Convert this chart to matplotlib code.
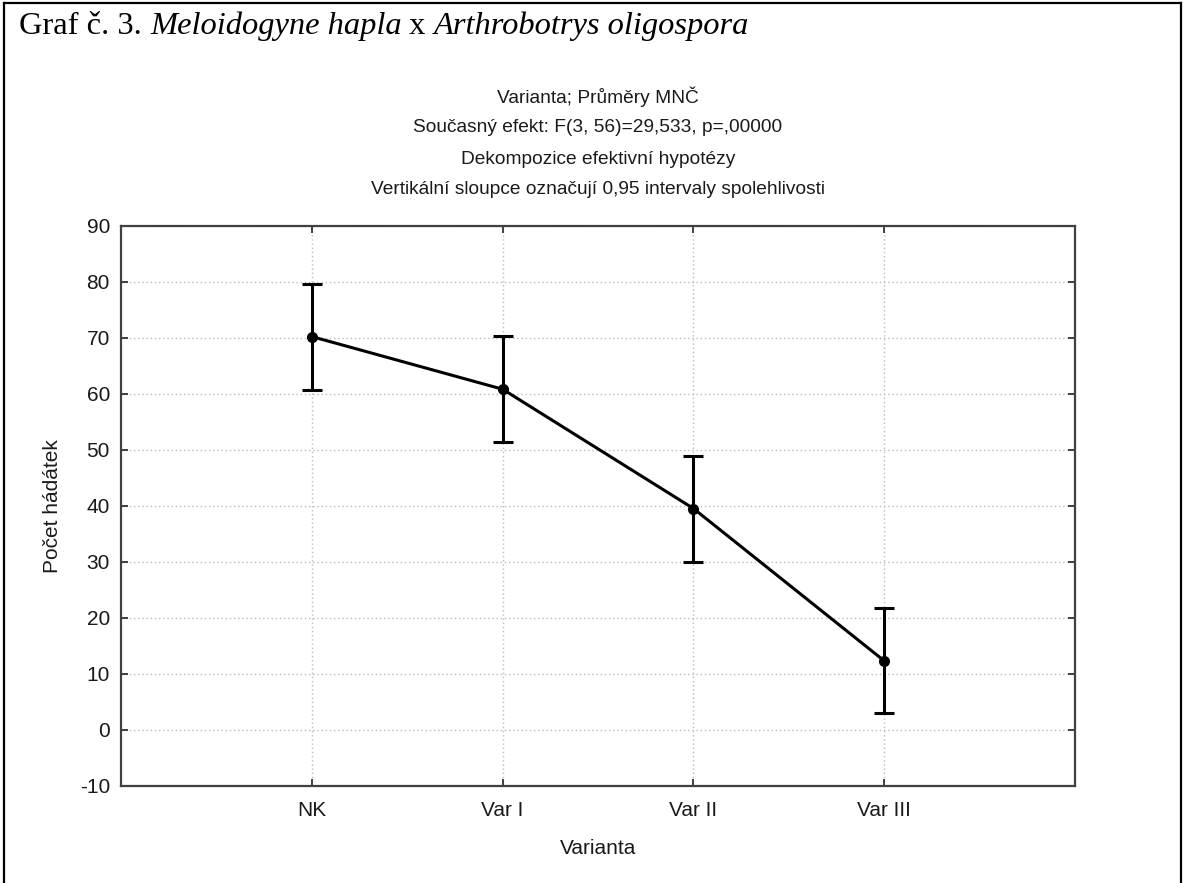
import matplotlib.pyplot as plt
import numpy as np
from matplotlib.lines import Line2D

plt.rcParams['font.family'] = ['Liberation Sans', 'DejaVu Sans']
plt.rcParams['axes.unicode_minus'] = False

# data
categories = ['NK', 'Var I', 'Var II', 'Var III']
means = [70.2, 60.8, 39.5, 12.3]
upper = [79.6, 70.3, 48.9, 21.8]
lower = [60.7, 51.4, 30.0, 2.9]
yticks = [-10, 0, 10, 20, 30, 40, 50, 60, 70, 80, 90]

header = ['Varianta; Průměry MNČ',
          'Současný efekt: F(3, 56)=29,533, p=,00000',
          'Dekompozice efektivní hypotézy',
          'Vertikální sloupce označují 0,95 intervaly spolehlivosti']

W, H = 1183, 883
fig = plt.figure(figsize=(W / 100, H / 100), dpi=100)
fig.patch.set_facecolor('white')

# frame around the whole figure (bottom edge falls outside the image)
for xs, ys in [([4 / W, 4 / W], [0, 1 - 3 / H]),
               ([1 - 2 / W, 1 - 2 / W], [0, 1 - 3 / H]),
               ([4 / W, 1 - 2 / W], [1 - 3 / H, 1 - 3 / H])]:
    fig.add_artist(Line2D(xs, ys, color='black', lw=1.6, transform=fig.transFigure))

# caption: mixed upright / italic parts placed one after another
cap_parts = [('Graf č. 3. ', 'normal'), ('Meloidogyne hapla', 'italic'),
             (' x ', 'normal'), ('Arthrobotrys oligospora', 'italic')]
renderer = fig.canvas.get_renderer()
xpos = 19 / W
for txt, style in cap_parts:
    t = fig.text(xpos, 1 - 26 / H, txt, family='Liberation Serif', style=style,
                 fontsize=23.4, va='center', ha='left')
    bb = t.get_window_extent(renderer=renderer)
    xpos += bb.width / W

# header lines above the plot
for i, line in enumerate(header):
    fig.text(598 / W, 1 - (97 + 31 * i) / H, line, fontsize=13.8, ha='center',
             va='center', color='#1a1a1a')

ax = fig.add_axes([121 / W, 1 - 785.7 / H, (1075 - 121) / W, (785.7 - 225.7) / H])
x = np.arange(1, len(categories) + 1)
m = np.array(means)
yerr = [m - np.array(lower), np.array(upper) - m]
ax.errorbar(x, m, yerr=yerr, color='black', lw=2.2, elinewidth=2.2, capsize=7.5,
            capthick=2.2, marker='o', markersize=7, zorder=3)

ax.set_xlim(0, 5)
ax.set_ylim(-10, 90)
ax.set_xticks(x)
ax.set_xticklabels(categories)
ax.set_yticks(yticks)
ax.tick_params(direction='in', top=True, right=True, length=5, width=1.3,
               labelsize=15, colors='#333333', labelcolor='#1a1a1a')
ax.tick_params(axis='x', pad=11)
ax.tick_params(axis='y', pad=8)
ax.grid(True, linestyle=(0, (1, 2)), color='#bbbbbb', lw=1)
for s in ax.spines.values():
    s.set_color('#404040')
    s.set_linewidth(1.6)

ax.set_xlabel('Varianta', fontsize=15, labelpad=14, color='#1a1a1a')
ax.set_ylabel('Počet hádátek', fontsize=15, labelpad=13, color='#1a1a1a')

plt.savefig('out.png', dpi=100, facecolor='white')
